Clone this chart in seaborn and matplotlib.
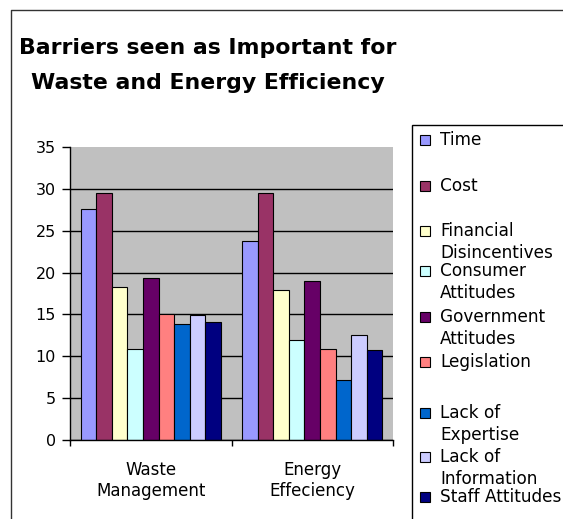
import pandas as pd
import seaborn as sns
import matplotlib.pyplot as plt
from matplotlib.patches import Rectangle
from matplotlib.lines import Line2D

# data
groups = ["Waste\nManagement", "Energy\nEffeciency"]
barriers = ["Time", "Cost", "Financial Disincentives", "Consumer Attitudes",
            "Government Attitudes", "Legislation", "Lack of Expertise",
            "Lack of Information", "Staff Attitudes"]
legend_labels = ["Time", "Cost", "Financial\nDisincentives", "Consumer\nAttitudes",
                 "Government\nAttitudes", "Legislation", "Lack of\nExpertise",
                 "Lack of\nInformation", "Staff Attitudes"]
waste = [27.6, 29.5, 18.3, 10.9, 19.4, 15.0, 13.8, 14.9, 14.1]
energy = [23.8, 29.5, 17.9, 12.0, 19.0, 10.9, 7.2, 12.5, 10.8]
colors = ["#9999FF", "#993366", "#FFFFCC", "#CCFFFF", "#660066",
          "#FF8080", "#0066CC", "#CCCCFF", "#000080"]

df = pd.DataFrame({
    "Area": [groups[0]] * len(barriers) + [groups[1]] * len(barriers),
    "Barrier": barriers * 2,
    "Score": waste + energy,
})

sns.set_style("white")
plt.rcParams["font.family"] = ["DejaVu Sans"]
plt.rcParams["text.color"] = "black"

W, H = 563, 519
fig = plt.figure(figsize=(W / 100, H / 100), dpi=100)
ax = fig.add_axes([70 / W, 79 / H, 323 / W, 293 / H])

sns.barplot(data=df, x="Area", y="Score", hue="Barrier", hue_order=barriers,
            palette=colors, saturation=1, width=0.867, edgecolor="black",
            linewidth=0.8, legend=False, ax=ax)

ax.set_facecolor("#C0C0C0")
ax.set_xlim(-0.5, 1.5)
ax.set_ylim(0, 35)
ax.set_yticks(range(0, 36, 5))
ax.yaxis.grid(True, color="black", linewidth=1)
ax.get_ygridlines()[-1].set_visible(False)
ax.set_axisbelow(True)
ax.set_xlabel("")
ax.set_ylabel("")
for side in ["top", "right"]:
    ax.spines[side].set_visible(False)
for side in ["left", "bottom"]:
    ax.spines[side].set_color("black")
    ax.spines[side].set_linewidth(1)

ax.tick_params(axis="y", left=True, direction="out", length=6, width=1,
               color="black", labelsize=11.5, pad=4, labelcolor="black")
ax.set_xticks([0, 1])
ax.set_xticklabels(groups, fontsize=12, color="black")
ax.tick_params(axis="x", which="major", length=0, pad=15)
ax.set_xticks([-0.5, 0.5, 1.5], minor=True)
ax.tick_params(axis="x", which="minor", bottom=True, direction="out",
               length=4, width=1, color="black")

# title
fig.text(208 / W, 1 - 48 / H, "Barriers seen as Important for", ha="center",
         va="center", fontsize=15.8, fontweight="bold", color="black")
fig.text(208 / W, 1 - 83 / H, "Waste and Energy Efficiency", ha="center",
         va="center", fontsize=15.8, fontweight="bold", color="black")

# outer chart border (cropped on the right and bottom)
fig.add_artist(Line2D([11 / W, 11 / W, 1.02], [-0.02, 1 - 10 / H, 1 - 10 / H],
                      transform=fig.transFigure, color="#333333", linewidth=1))

# legend box
fig.add_artist(Rectangle((412 / W, -0.05), 0.5, 1 - 125 / H + 0.05,
                         transform=fig.transFigure, fill=False,
                         edgecolor="black", linewidth=1))
entry_y = [140, 186, 231, 271, 317, 362, 413, 457, 497]
for lab, col, y in zip(legend_labels, colors, entry_y):
    fig.add_artist(Rectangle((420 / W, 1 - (y + 5) / H), 10 / W, 10 / H,
                             transform=fig.transFigure, facecolor=col,
                             edgecolor="black", linewidth=0.8))
    for k, line in enumerate(lab.split("\n")):
        fig.text(440 / W, 1 - (y + 22 * k) / H, line, ha="left", va="center",
                 fontsize=12.2, color="black")

fig.savefig("out.png", dpi=100)
